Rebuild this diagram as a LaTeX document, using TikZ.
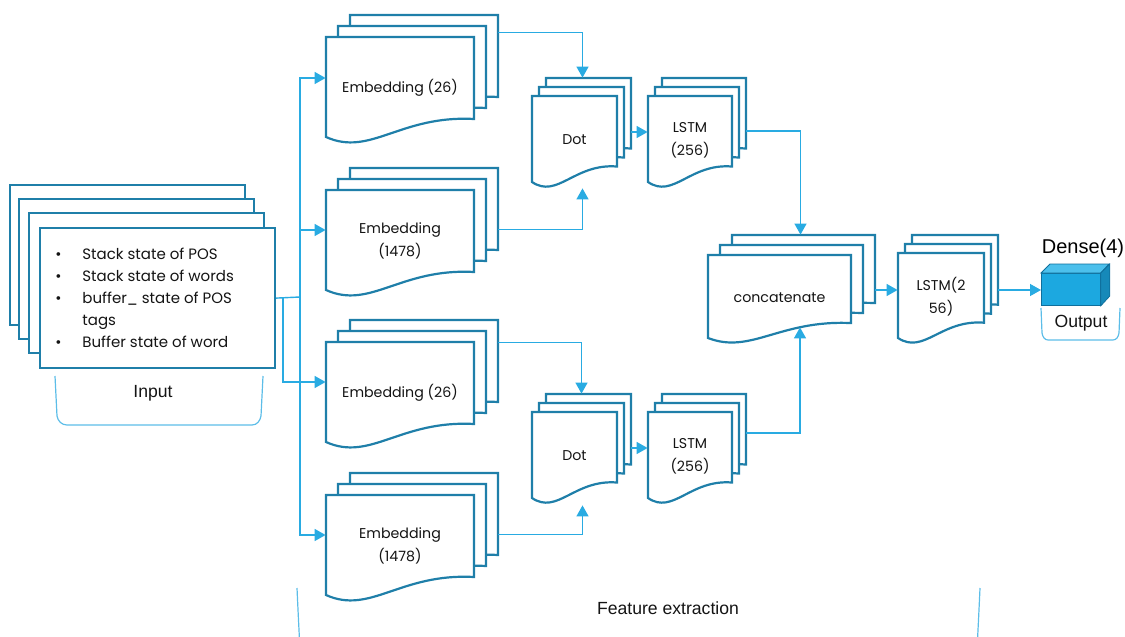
\documentclass[tikz,border=0pt]{standalone}
\usepackage{fontspec}
\setmainfont{Poppins}
\newfontfamily\arialfont{Liberation Sans}
\usetikzlibrary{arrows.meta,calc}

\definecolor{docline}{HTML}{1F7FA9}
\definecolor{link}{HTML}{29ABE2}
\definecolor{bracecol}{HTML}{5CBDE8}
\definecolor{cubefront}{HTML}{1CA8E0}
\definecolor{cubetop}{HTML}{4CC0EC}
\definecolor{cubeside}{HTML}{1689B9}
\definecolor{cubeedge}{HTML}{0F6F9C}

\tikzset{
  sheet/.style={draw=docline, fill=white, line width=1.1pt, line join=miter},
  boxlabel/.style={rectangle, inner sep=0pt, align=center,
    font=\fontsize{7.1}{11.5}\selectfont, text=black!92},
  ghost/.style={rectangle, inner sep=0pt},
  link/.style={draw=link, line width=0.7pt},
  arrow/.style={link, -{Triangle[length=5.5pt,width=6pt]}},
  bracket/.style={draw=bracecol, line width=0.6pt},
  caption/.style={font=\arialfont\fontsize{8.8}{10}\selectfont, text=black!92},
}

% one sheet: top-left corner (#1,#2), width #3, height #4, wavy lower edge
\newcommand\sheet[4]{%
  \filldraw[sheet] (#1,#2) -- ++(#3,0) -- ++(0,0.82*#4)
    .. controls +(-0.5*#3,-0.04*#4) and +(0.3*#3,0.2*#4) .. (#1,#2+#4) -- cycle;}

% stack of three sheets: name, x, y, w, h, shift right, shift up, label
\newcommand\docstack[8]{%
  \sheet{#2+2*#6}{#3-2*#7}{#4}{#5}
  \sheet{#2+#6}{#3-#7}{#4}{#5}
  \sheet{#2}{#3}{#4}{#5}
  \node[boxlabel, minimum width={#4*0.5pt}, minimum height={#5*0.5pt}]
    (#1) at (#2+0.5*#4,#3+0.5*#5+1) {#8};
  \node[ghost, minimum width={#4*0.5pt}, minimum height={#5*0.5pt}]
    (#1-back) at (#2+2*#6+0.5*#4,#3-2*#7+0.5*#5) {};
}

\begin{document}
\begin{tikzpicture}[x=0.5pt,y=-0.5pt]
\clip (0,0) rectangle (1125,637);

% ---------- input stack ----------
\foreach \px/\py in {10/185,19/199,29/213}
  \filldraw[sheet] (\px,\py) rectangle ++(235,140);
\node[sheet, rectangle, inner sep=0pt, minimum width=117.5pt, minimum height=70pt,
  anchor=north west] (input) at (39,227) {};
\node[anchor=north west, inner sep=0pt, font=\fontsize{7.5}{11}\selectfont, text=black!92]
  (inputlist) at (55,244) {%
  \begin{tabular}{@{}l@{}l@{}}
  \makebox[13.5pt][l]{\textbullet} & Stack state of POS\\
  \makebox[13.5pt][l]{\textbullet} & Stack state of words\\
  \makebox[13.5pt][l]{\textbullet} & buffer\_ state of POS\\
   & tags\\
  \makebox[13.5pt][l]{\textbullet} & Buffer state of word
  \end{tabular}};

% ---------- embeddings ----------
\docstack{e1}{326}{37}{148}{100}{12}{11}{Embedding (26)}
\docstack{e2}{326}{190}{148}{100}{12}{11}{Embedding\\(1478)}
\docstack{e3}{326}{342}{148}{100}{12}{11}{Embedding (26)}
\docstack{e4}{326}{495}{148}{100}{12}{11}{Embedding\\(1478)}

% ---------- dot products and LSTMs ----------
\docstack{d1}{532}{96}{85}{86}{7}{9}{Dot}
\docstack{d2}{532}{412}{85}{86}{7}{9}{Dot}
\docstack{l1}{648}{96}{84}{86}{7}{9}{LSTM\\(256)}
\docstack{l2}{648}{412}{84}{86}{7}{9}{LSTM\\(256)}

% ---------- merge ----------
\docstack{cc}{708}{255}{143}{83}{12}{10}{concatenate}
\docstack{l3}{898}{253}{86}{85}{7}{9}{LSTM(2\\56)}

% ---------- dense output block ----------
\node[rectangle, fill=cubefront, draw=cubeedge, line width=0.4pt, inner sep=0pt,
  minimum width=29.5pt, minimum height=16pt, anchor=north west] (dense) at (1041,273) {};
\filldraw[fill=cubetop, draw=cubeedge, line width=0.4pt]
  (dense.north west) -- ++(9,-9) -- ++(59,0) -- (dense.north east) -- cycle;
\filldraw[fill=cubeside, draw=cubeedge, line width=0.4pt]
  (dense.north east) -- ++(9,-9) -- ++(0,32) -- (dense.south east) -- cycle;
\node[font=\arialfont\fontsize{10}{12}\selectfont, inner sep=0pt] (densetitle)
  at (1083,248) {Dense(4)};

% ---------- connectors ----------
\coordinate (trunk) at (300,297);
\coordinate (split) at (283,297);
\draw[link] (input.east) -- (trunk);
\draw[arrow] (trunk) |- ($(e1.west)+(0,-10)$);
\draw[arrow] (trunk) |- ($(e2.west)+(0,-11)$);
\draw[arrow] (trunk) |- ($(e4.west)+(0,-11)$);
\draw[arrow] (split) |- ($(e3.west)+(0,-11)$);

\draw[arrow] ($(e1-back.north east)+(0,18)$) -| ($(d1-back.north)+(-6,0)$);
\draw[arrow] ($(e2-back.north east)+(0,62)$) -| ($(d1.south)+(8,5)$);
\draw[arrow] ($(e3-back.north east)+(0,23)$) -| ($(d2-back.north)+(-7,0)$);
\draw[arrow] ($(e4-back.north east)+(0,62)$) -| ($(d2.south)+(8,6)$);

\draw[arrow] ($(d1-back.east)+(0,11)$) coordinate (p1) -- (p1 -| l1.west);
\draw[arrow] ($(d2-back.east)+(0,11)$) coordinate (p2) -- (p2 -| l2.west);

\draw[arrow] ($(l1-back.east)+(0,10)$) -| ($(cc-back.north)+(-3,0)$);
\draw[arrow] ($(l2-back.east)+(0,-4)$) -| ($(cc.south)+(20.5,-12)$);

\draw[arrow] ($(cc-back.east)+(0,13.5)$) coordinate (p3) -- (p3 -| l3.west);
\draw[arrow] ($(l3-back.east)+(0,12.5)$) coordinate (p4) -- (p4 -| dense.west);

% ---------- group brackets ----------
\draw[bracket] (55,376) -- (57,416) to[out=-80,in=180] (67,425) -- (252,425)
  to[out=0,in=-100] (261,416) -- (263,376);
\node[caption] (inputcap) at (153,393) {Input};

\draw[bracket] (1041,308) -- (1042,333) to[out=-80,in=180] (1048,340) -- (1113,340)
  to[out=0,in=-100] (1119,333) -- (1120,308);
\node[caption] (outputcap) at (1081,323) {Output};

\draw[bracket] (297,588) .. controls (298,610) .. (300,650);
\draw[bracket] (980,588) .. controls (979,610) .. (977,650);
\node[caption] (featcap) at (668,608) {Feature extraction};
\end{tikzpicture}
\end{document}
